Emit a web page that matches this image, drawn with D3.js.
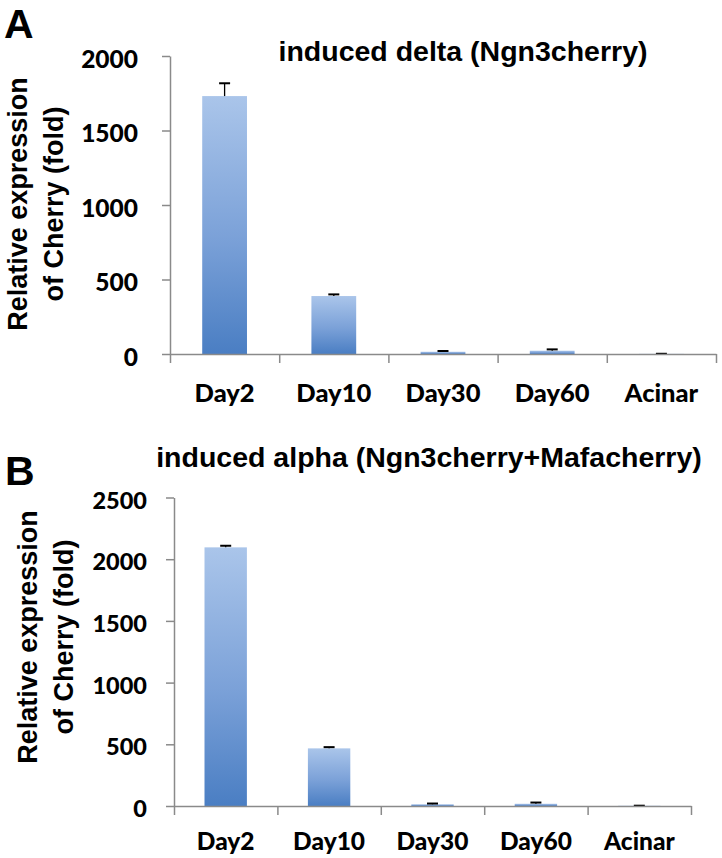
<!DOCTYPE html>
<html><head><meta charset="utf-8">
<script src="https://cdn.jsdelivr.net/npm/d3@7"></script>
<style>
body{margin:0;background:#fff;}
svg{display:block;}
</style></head>
<body>
<svg id="chart" width="722" height="858"></svg>
<script>
const categories = ["Day2","Day10","Day30","Day60","Acinar"];
const deltaValues = [1731, 389, 15, 22, 1];
const deltaErrors = [86, 11, 5, 9, 0.5];
const alphaValues = [2096, 467, 14, 18, 2];
const alphaErrors = [13, 10, 6, 10, 0.5];
const deltaTicks = [0, 500, 1000, 1500, 2000];
const alphaTicks = [0, 500, 1000, 1500, 2000, 2500];
const yTitleLines = ["Relative expression", "of Cherry (fold)"];

const svg = d3.select("#chart");
const defs = svg.append("defs");
const grad = defs.append("linearGradient").attr("id","barGrad")
  .attr("x1",0).attr("y1",0).attr("x2",0).attr("y2",1);
grad.append("stop").attr("offset","0%").attr("stop-color","#aac5ea");
grad.append("stop").attr("offset","55%").attr("stop-color","#7ba1d8");
grad.append("stop").attr("offset","100%").attr("stop-color","#4a7ec3");

const axisColor = "#8a8a8a";
const tickFont = "Lato, 'Open Sans', sans-serif";
const arialFont = "'Liberation Sans', Arial, sans-serif";

function panel(cfg){
  const g = svg.append("g");
  const x = d3.scaleBand().domain(categories).range([cfg.x0, cfg.x1]).paddingInner(0.59).paddingOuter(0.295);
  const xb = d3.scaleLinear().domain([0, categories.length]).range([cfg.x0, cfg.x1]);
  const y = d3.scaleLinear().domain([0, cfg.max]).range([cfg.y0, cfg.y1]);

  // y axis
  const ya = g.append("g").attr("transform",`translate(${cfg.x0},0)`)
    .call(d3.axisLeft(y).tickValues(cfg.ticks).tickSize(8).tickSizeOuter(0).tickPadding(cfg.tickPad).tickFormat(d3.format("d")));
  ya.select(".domain").attr("stroke",axisColor).attr("stroke-width",1.5);
  ya.selectAll(".tick line").attr("stroke",axisColor).attr("stroke-width",1.5);
  ya.selectAll(".tick text").attr("font-family",tickFont).attr("font-weight","900")
    .attr("font-size",cfg.tickSize).attr("fill","#000").attr("dy","0.45em");

  // bars
  g.selectAll("rect.bar").data(cfg.values).enter().append("rect").attr("class","bar")
    .attr("x",(d,i)=>x(categories[i])).attr("width",x.bandwidth())
    .attr("y",d=>y(d)).attr("height",d=>cfg.y0-y(d))
    .attr("fill","url(#barGrad)");

  // error bars
  const eb = g.selectAll("g.err").data(cfg.values).enter().append("g").attr("class","err");
  eb.append("line")
    .attr("x1",(d,i)=>x(categories[i])+x.bandwidth()/2).attr("x2",(d,i)=>x(categories[i])+x.bandwidth()/2)
    .attr("y1",d=>y(d)).attr("y2",(d,i)=>y(d+cfg.errors[i]))
    .attr("stroke","#000").attr("stroke-width",1.3);
  eb.append("line")
    .attr("x1",(d,i)=>x(categories[i])+x.bandwidth()/2-5.5).attr("x2",(d,i)=>x(categories[i])+x.bandwidth()/2+5.5)
    .attr("y1",(d,i)=>y(d+cfg.errors[i])).attr("y2",(d,i)=>y(d+cfg.errors[i]))
    .attr("stroke","#000").attr("stroke-width",2);

  // x axis with boundary ticks
  const xa = g.append("g").attr("transform",`translate(0,${cfg.y0})`)
    .call(d3.axisBottom(xb).tickValues(d3.range(categories.length+1)).tickSize(9).tickSizeOuter(0).tickFormat(""));
  xa.select(".domain").attr("stroke",axisColor).attr("stroke-width",1.5);
  xa.selectAll(".tick line").attr("stroke",axisColor).attr("stroke-width",1.5);

  const xl = g.append("g").attr("transform",`translate(0,${cfg.y0})`)
    .call(d3.axisBottom(x).tickSize(0).tickPadding(0));
  xl.select(".domain").remove();
  xl.selectAll(".tick text").attr("font-family",tickFont).attr("font-weight","900")
    .attr("font-size",cfg.catSize).attr("fill","#000").attr("y",cfg.labelDy).attr("dy",0);

  // title
  g.append("text").attr("x",cfg.titleX).attr("y",cfg.titleY).attr("text-anchor","middle")
    .attr("font-family",arialFont).attr("font-weight","bold").attr("font-size",28.5)
    .text(cfg.title);

  // y title
  yTitleLines.forEach((t,i)=>{
    g.append("text").attr("transform",`translate(${cfg.ytX[i]},${cfg.ytY}) rotate(-90)`)
      .attr("text-anchor","middle").attr("font-family",arialFont).attr("font-weight","bold")
      .attr("font-size",27).text(t);
  });

  // panel letter
  g.append("text").attr("x",cfg.letterX).attr("y",cfg.letterY)
    .attr("font-family",arialFont).attr("font-weight","bold").attr("font-size",41)
    .text(cfg.letter);
}

panel({x0:170, x1:716, y0:354, y1:56, max:2000, ticks:deltaTicks, values:deltaValues, errors:deltaErrors,
  tickPad:24, tickSize:24.5, catSize:25.5, labelDy:48, title:"induced delta (Ngn3cherry)", titleX:463, titleY:61,
  ytX:[27,63], ytY:204, letter:"A", letterX:4, letterY:38});

panel({x0:174, x1:691, y0:806, y1:497.5, max:2500, ticks:alphaTicks, values:alphaValues, errors:alphaErrors,
  tickPad:19, tickSize:23.5, catSize:24.5, labelDy:44, title:"induced alpha (Ngn3cherry+Mafacherry)", titleX:429, titleY:467,
  ytX:[37,73], ytY:637, letter:"B", letterX:5, letterY:485});
</script>
</body></html>
